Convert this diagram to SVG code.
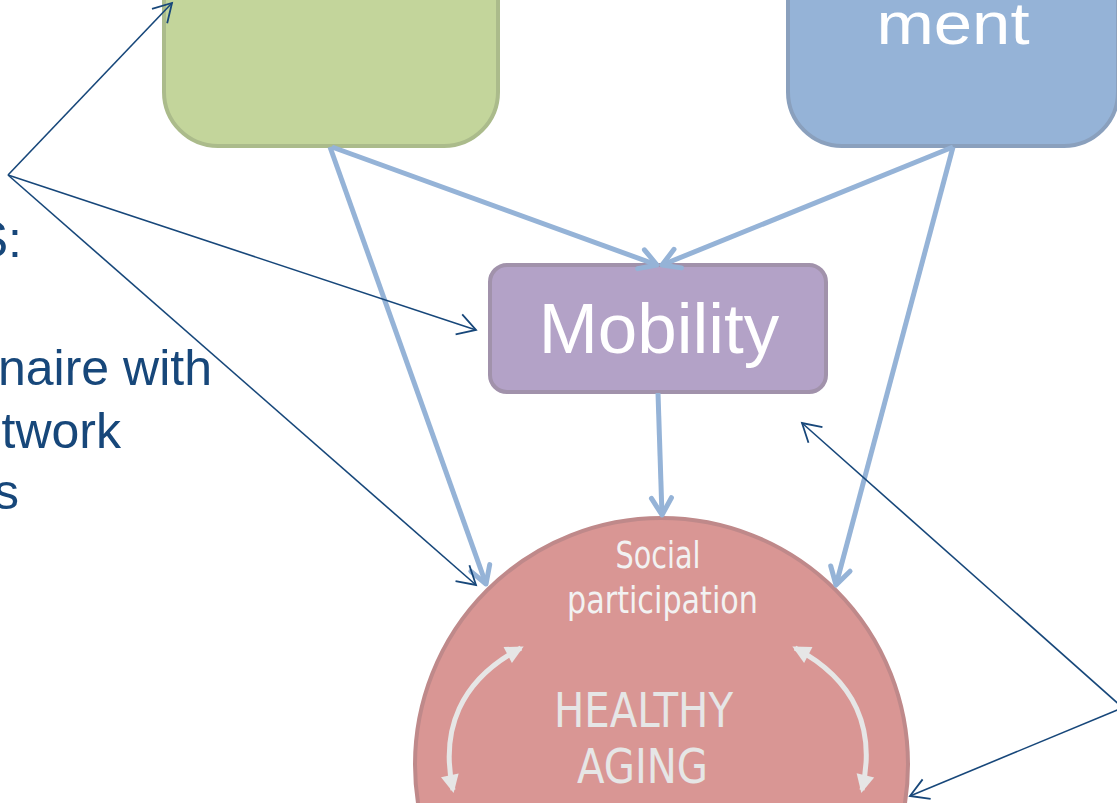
<svg xmlns="http://www.w3.org/2000/svg" width="1117" height="803" viewBox="0 0 1117 803">
<defs>
<style>
.thick{stroke:#95b3d7;stroke-width:5;fill:none;marker-end:url(#vb)}
.thin{stroke:#17477a;stroke-width:1.6;fill:none;marker-end:url(#vd)}
.lt{font-family:"Liberation Sans",Arial,sans-serif;font-size:50px;fill:#17477a}
.nar{font-family:"Liberation Sans Narrow","DejaVu Sans Condensed","Roboto Condensed",sans-serif;font-stretch:condensed}
.wa{stroke:#e6e6e6;stroke-width:5;fill:none;marker-start:url(#wh);marker-end:url(#wh)}
</style>
<marker id="vb" markerUnits="userSpaceOnUse" markerWidth="40" markerHeight="40" refX="0" refY="0" orient="auto" overflow="visible">
<path d="M-17,-10 L0,0 L-17,10" fill="none" stroke="#95b3d7" stroke-width="5" stroke-linecap="round" stroke-linejoin="round"/>
</marker>
<marker id="vd" markerUnits="userSpaceOnUse" markerWidth="30" markerHeight="30" refX="0" refY="0" orient="auto" overflow="visible">
<path d="M-18,-10.5 L0,0 L-18,10.5" fill="none" stroke="#17477a" stroke-width="1.8"/>
</marker>
<marker id="wh" markerUnits="userSpaceOnUse" markerWidth="30" markerHeight="30" refX="0" refY="0" orient="auto-start-reverse" overflow="visible">
<path d="M-15,-9 L3,0 L-15,9 Z" fill="#e6e6e6"/>
</marker>
</defs>
<rect width="1117" height="803" fill="#ffffff"/>

<g id="left-text">
<text class="lt" x="22" y="257" text-anchor="end">S:</text>
<text class="lt" x="212" y="385" text-anchor="end">naire with</text>
<text class="lt" x="121" y="448" text-anchor="end">twork</text>
<text class="lt" x="19" y="509" text-anchor="end">s</text>
</g>

<g id="node-green">
<rect x="164" y="-200" width="334" height="346" rx="54" fill="#c3d59b" stroke="#abbb8b" stroke-width="4"/>
</g>

<g id="node-blue">
<rect x="788" y="-200" width="330" height="346" rx="54" fill="#95b3d7" stroke="#8aa0bd" stroke-width="4"/>
<text x="953" y="44" text-anchor="middle" font-family="Liberation Sans, Arial, sans-serif" font-size="60" fill="#ffffff" textLength="153" lengthAdjust="spacingAndGlyphs">ment</text>
</g>

<g id="node-mobility">
<rect x="490" y="265" width="336" height="127" rx="17" fill="#b3a2c7" stroke="#a192ab" stroke-width="4"/>
<text x="659" y="353" text-anchor="middle" font-family="Liberation Sans, Arial, sans-serif" font-size="71" fill="#ffffff">Mobility</text>
</g>

<g id="node-healthy-aging">
<circle cx="661.5" cy="764.5" r="246.5" fill="#d99694" stroke="#bf898a" stroke-width="4"/>
<text class="nar" x="658" y="568" text-anchor="middle" font-size="38" fill="#f2f2f2" textLength="85" lengthAdjust="spacingAndGlyphs">Social</text>
<text class="nar" x="662.5" y="613" text-anchor="middle" font-size="38" fill="#f2f2f2" textLength="191" lengthAdjust="spacingAndGlyphs">participation</text>
<text class="nar" x="643.5" y="727" text-anchor="middle" font-size="48" fill="#e6e6e6" textLength="179" lengthAdjust="spacingAndGlyphs">HEALTHY</text>
<text class="nar" x="642.5" y="783" text-anchor="middle" font-size="48" fill="#e6e6e6" textLength="131" lengthAdjust="spacingAndGlyphs">AGING</text>
<path class="wa" d="M453,790 C440,730 460,680 521,648"/>
<path class="wa" d="M795,648 C856,680 876,730 862,790"/>
</g>

<g id="connectors">
<line class="thick" x1="330" y1="147" x2="486" y2="584"/>
<line class="thick" x1="332" y1="147" x2="657" y2="265"/>
<line class="thick" x1="953" y1="147" x2="662" y2="265"/>
<line class="thick" x1="953" y1="147" x2="836" y2="585"/>
<line class="thick" x1="658" y1="393" x2="662" y2="515"/>
<line class="thin" x1="8" y1="175" x2="172" y2="3"/>
<line class="thin" x1="8" y1="175" x2="476" y2="330"/>
<line class="thin" x1="8" y1="175" x2="476" y2="585"/>
<line class="thin" x1="1122" y1="707" x2="802" y2="423"/>
<line class="thin" x1="1122" y1="708" x2="910" y2="796"/>
</g>
</svg>
